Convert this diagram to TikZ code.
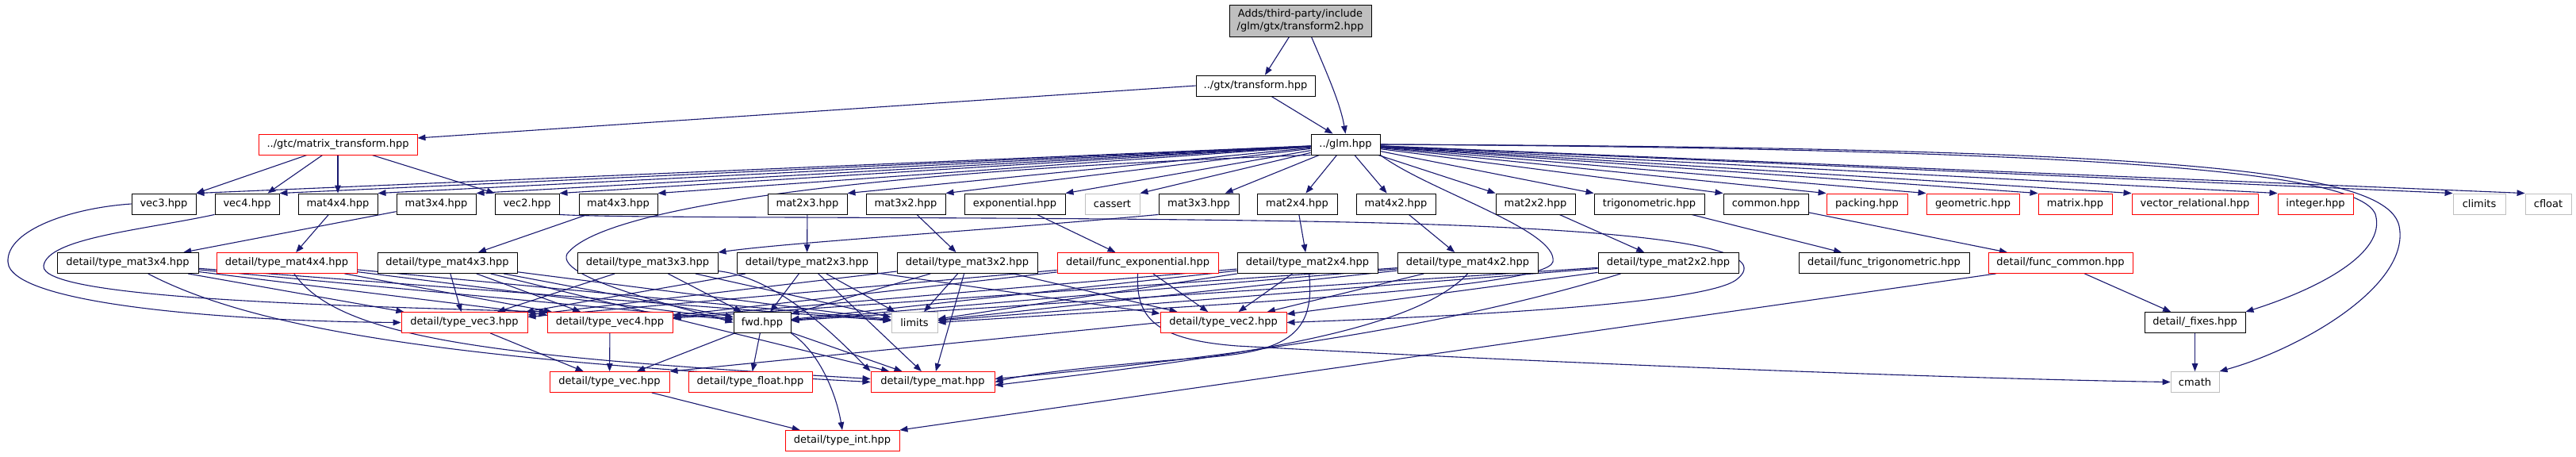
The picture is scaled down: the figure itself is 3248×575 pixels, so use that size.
\documentclass[tikz,border=0pt]{standalone}
\usepackage{fontspec}
\setmainfont{DejaVu Sans}
\usetikzlibrary{arrows.meta,calc}
\definecolor{eblue}{HTML}{191970}
\definecolor{grsev}{HTML}{BFBFBF}
\definecolor{dred}{HTML}{FF0000}
\pgfdeclarelayer{bg}
\pgfsetlayers{bg,main}
\newcommand\nd[6]{\node[#1,minimum width={(#4-#3)*0.5pt}] (#2) at ({(#3+#4)/2},#5) {#6};}
\begin{document}
\begin{tikzpicture}[x=0.5pt,y=-0.5pt,
  box/.style={draw=black,fill=white,line width=0.45pt,inner sep=0pt,minimum height=13pt,font=\fontsize{6.5}{8}\selectfont},
  bk/.style={box},
  rd/.style={box,draw=dred},
  gy/.style={box,draw=grsev},
  ed/.style={draw=eblue,line width=0.55pt,-{Triangle[length=5pt,width=3.8pt]}}]
\useasboundingbox (0,0) rectangle (3248,575);
% row A-C
\nd{box,fill=grsev,minimum height=20pt,align=center}{top}{1550}{1729}{26}{Adds/third-party/include\\/glm/gtx/transform2.hpp}
\nd{bk}{gtxtr}{1508}{1658}{108}{../gtx/transform.hpp}
\nd{rd}{mtr}{326}{526}{182}{../gtc/matrix\_transform.hpp}
\nd{bk}{glm}{1653}{1740}{182}{../glm.hpp}
% row D
\nd{bk}{v3}{166}{247}{257}{vec3.hpp}
\nd{bk}{v4}{271}{352}{257}{vec4.hpp}
\nd{bk}{m44}{376}{476}{257}{mat4x4.hpp}
\nd{bk}{m34}{500}{600}{257}{mat3x4.hpp}
\nd{bk}{v2}{624}{705}{257}{vec2.hpp}
\nd{bk}{m43}{730}{829}{257}{mat4x3.hpp}
\nd{bk}{m23}{968}{1068}{257}{mat2x3.hpp}
\nd{bk}{m32}{1092}{1192}{257}{mat3x2.hpp}
\nd{bk}{expo}{1216}{1343}{257}{exponential.hpp}
\nd{gy}{cassert}{1368}{1437}{257}{cassert}
\nd{bk}{m33}{1461}{1562}{257}{mat3x3.hpp}
\nd{bk}{m24}{1585}{1686}{257}{mat2x4.hpp}
\nd{bk}{m42}{1710}{1810}{257}{mat4x2.hpp}
\nd{bk}{m22}{1886}{1986}{257}{mat2x2.hpp}
\nd{bk}{trig}{2010}{2149}{257}{trigonometric.hpp}
\nd{bk}{common}{2173}{2280}{257}{common.hpp}
\nd{rd}{packing}{2303}{2405}{257}{packing.hpp}
\nd{rd}{geom}{2429}{2546}{257}{geometric.hpp}
\nd{rd}{matrix}{2570}{2663}{257}{matrix.hpp}
\nd{rd}{vrel}{2688}{2847}{257}{vector\_relational.hpp}
\nd{rd}{integer}{2872}{2967}{257}{integer.hpp}
\nd{gy}{climits}{3093}{3159}{257}{climits}
\nd{gy}{cfloat}{3184}{3242}{257}{cfloat}
% row E
\nd{bk}{t34}{72}{250}{331.5}{detail/type\_mat3x4.hpp}
\nd{rd}{t44}{273}{450}{331.5}{detail/type\_mat4x4.hpp}
\nd{bk}{t43}{476}{652}{331.5}{detail/type\_mat4x3.hpp}
\nd{bk}{t33}{728}{905}{331.5}{detail/type\_mat3x3.hpp}
\nd{bk}{t23}{929}{1106}{331.5}{detail/type\_mat2x3.hpp}
\nd{bk}{t32}{1131}{1308}{331.5}{detail/type\_mat3x2.hpp}
\nd{rd}{fexp}{1333}{1536}{331.5}{detail/func\_exponential.hpp}
\nd{bk}{t24}{1560}{1737}{331.5}{detail/type\_mat2x4.hpp}
\nd{bk}{t42}{1762}{1939}{331.5}{detail/type\_mat4x2.hpp}
\nd{bk}{t22}{2015}{2192}{331.5}{detail/type\_mat2x2.hpp}
\nd{bk}{ftrig}{2268}{2483}{331.5}{detail/func\_trigonometric.hpp}
\nd{rd}{fcom}{2507}{2689}{331.5}{detail/func\_common.hpp}
% row F
\nd{rd}{tv3}{506}{665}{406.5}{detail/type\_vec3.hpp}
\nd{rd}{tv4}{690}{848}{406.5}{detail/type\_vec4.hpp}
\nd{bk}{fwd}{925}{997}{406.5}{fwd.hpp}
\nd{gy}{limits}{1124}{1182}{406.5}{limits}
\nd{rd}{tv2}{1463}{1622}{406.5}{detail/type\_vec2.hpp}
\nd{bk}{fixes}{2704}{2831}{406.5}{detail/\_fixes.hpp}
% row G, H
\nd{rd}{tvec}{693}{844}{481.5}{detail/type\_vec.hpp}
\nd{rd}{tfloat}{868}{1024}{481.5}{detail/type\_float.hpp}
\nd{rd}{tmat}{1098}{1254}{481.5}{detail/type\_mat.hpp}
\nd{gy}{cmath}{2737}{2798}{481.5}{cmath}
\nd{rd}{tint}{990}{1134}{555.5}{detail/type\_int.hpp}

\begin{pgfonlayer}{bg}
\fill[white] (0,0) rectangle (3248,575);
% top part
\draw[ed] ([xshift=-7pt]top.south) -- ([xshift=6pt]gtxtr.north);
\draw[ed] ([xshift=7pt]top.south) .. controls (1672,90) and (1690,130) .. (glm.north);
\draw[ed] ([xshift=10pt]gtxtr.south) -- ([xshift=-8pt]glm.north);
\draw[ed] (gtxtr.west) -- ([yshift=4pt]mtr.east);
% matrix_transform
\draw[ed] (mtr) -- (v3.north east);
\draw[ed] (mtr) -- ($(v4.north east)+(-15,0)$);
\draw[ed] (mtr) -- (m44);
\draw[ed] (mtr) -- (v2.north west);
% glm fan
\foreach \t in {v3,v4,m44,m34,v2,m43,m23,m32,expo,cassert} \draw[ed] (glm) -- (\t.north east);
\foreach \t in {m33,m24,m42} \draw[ed] (glm) -- (\t);
\foreach \t in {m22,trig,common,packing,geom,matrix,vrel,integer,climits,cfloat} \draw[ed] (glm) -- (\t.north west);
\draw[ed] (glm.south west) .. controls (1100,215) and (760,260) .. (715,320) .. controls (700,350) and (850,385) .. (fwd.west);
\draw[ed] (glm.south east) .. controls (1800,240) and (1965,290) .. (1958,330) .. controls (1950,365) and (1500,385) .. (limits.east);
\draw[ed] (glm.east) .. controls (2700,188) and (2975,220) .. (2995,270) .. controls (3010,320) and (2920,365) .. (fixes.north east);
\draw[ed] (glm.east) .. controls (2750,186) and (3010,215) .. (3025,285) .. controls (3040,360) and (2900,440) .. (cmath.north east);
% row D -> E/F
\draw[ed] (v3.west) .. controls (90,262) and (8,290) .. (10,330) .. controls (12,385) and (300,405) .. (tv3.west);
\draw[ed] (v4.south west) .. controls (180,290) and (60,300) .. (55,335) .. controls (50,375) and (400,385) .. (tv4.north west);
\draw[ed] (v2.south east) .. controls (800,276) and (1300,272) .. (1700,280) .. controls (2150,290) and (2230,320) .. (2190,352) .. controls (2150,385) and (1800,400) .. (tv2.east);
\draw[ed] (m33.south west) .. controls (1250,290) and (1000,305) .. (t33.north east);
\draw[ed] (m44) -- (t44);
\draw[ed] (m34) -- (t34);
\draw[ed] (m43) -- (t43);
\draw[ed] (m23) -- (t23);
\draw[ed] (m32) -- (t32);
\draw[ed] (expo) -- (fexp);
\draw[ed] (m24) -- (t24);
\draw[ed] (m42) -- (t42);
\draw[ed] (m22) -- (t22);
\draw[ed] (trig) -- (ftrig);
\draw[ed] (common) -- (fcom);
% type_mat edges
\foreach \s in {t34,t44,t43,t33,t23,t32,t24,t42,t22} {\draw[ed] (\s) -- (fwd); \draw[ed] (\s) -- (limits);}
\foreach \s in {t34,t43,t33,t23,t32,fexp} \draw[ed] (\s) -- (tv3);
\foreach \s in {t34,t44,t43,t24,t42,fexp} \draw[ed] (\s) -- (tv4);
\foreach \s in {t23,t32,t24,t42,t22,fexp} \draw[ed] (\s) -- (tv2);
\draw[ed] (t34) .. controls (330,420) and (600,455) .. (tmat.west);
\draw[ed] (t44) .. controls (430,430) and (640,450) .. ([yshift=2pt]tmat.west);
\draw[ed] (t43) -- (tmat);
\draw[ed] (t33) .. controls (980,350) and (1050,420) .. (tmat.north west);
\draw[ed] (t23) -- (tmat);
\draw[ed] (t32) -- (tmat);
\draw[ed] ([xshift=1pt]t24.south) .. controls (1660,430) and (1610,445) .. (1500,452) .. controls (1400,460) and (1300,470) .. (tmat.east);
\draw[ed] (t42.south) .. controls (1780,420) and (1550,450) .. ([yshift=-2pt]tmat.east);
\draw[ed] ([xshift=-30pt]t22.south) .. controls (1800,420) and (1500,455) .. ([yshift=2pt]tmat.east);
% others
\draw[ed] (fexp.south) .. controls (1432,400) and (1455,428) .. (1560,436) .. controls (2000,460) and (2500,478) .. (cmath.west);
\draw[ed] (fcom) -- (fixes);
\draw[ed] ([xshift=5pt]fcom.south west) -- (tint.north east);
\draw[ed] (fixes) -- (cmath);
\draw[ed] (tv3) -- (tvec);
\draw[ed] (tv4) -- (tvec);
\draw[ed] (tv2.west) -- (tvec.north east);
\draw[ed] (fwd) -- (tvec);
\draw[ed] (fwd) -- (tfloat);
\draw[ed] (fwd) -- (tmat);
\draw[ed] (fwd.south east) .. controls (1035,445) and (1055,500) .. (tint.north);
\draw[ed] (tvec) -- (tint);
\end{pgfonlayer}
\end{tikzpicture}
\end{document}
